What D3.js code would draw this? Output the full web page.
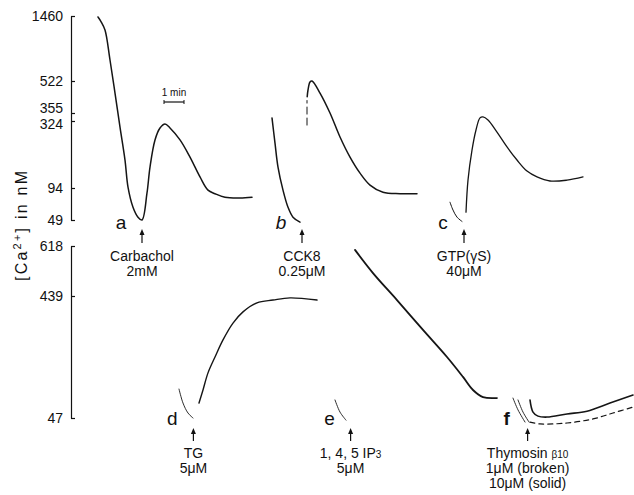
<!DOCTYPE html>
<html>
<head>
<meta charset="utf-8">
<script src="https://cdn.jsdelivr.net/npm/d3@7"></script>
<style>
body { margin: 0; background: #fff; }
svg { display: block; font-family: "Liberation Sans", Arial, sans-serif; }
.axis path, .axis line { stroke: #111; stroke-width: 1.2; }
.axis text { font-size: 14px; fill: #111; font-family: "Liberation Sans", Arial, sans-serif; }
.trace { fill: none; stroke: #151515; stroke-linejoin: round; stroke-linecap: round; }
.lbl { fill: #111; }
</style>
</head>
<body>
<svg id="chart"></svg>
<script>
// time in minutes, [Ca2+] in nM
const topTicks = [49, 94, 324, 355, 522, 1460];
const bottomTicks = [47, 439, 618];

// upper row (a, b, c)
const traceA = [[1.30,1446],[1.45,1380],[1.65,1258],[1.90,825],[2.15,459],[2.40,303],[2.65,190],[2.80,97],[3.05,67],[3.30,53],[3.50,49],
  [3.75,87],[3.90,166],[4.15,259],[4.40,300],[4.65,314],[4.90,300],[5.40,259],[5.90,200],[6.40,132],[6.80,91],[7.15,86],[7.65,81],[8.40,80],[9.00,81]];
const traceBpre = [[10.0,336],[10.15,248],[10.3,166],[10.55,91],[10.8,67],[11.05,53],[11.4,46]];
const traceBjump = [[11.75,310],[11.75,420]];
const traceB = [[11.76,440],[11.8,475],[11.9,517],[12.0,522],[12.4,459],[12.9,355],[13.4,269],[13.9,200],[14.4,145],[14.9,104],[15.55,88],[16.4,86],[17.25,86]];
const traceCpre = [[18.9,74],[19.05,63],[19.25,53],[19.5,47]];
const traceC = [[19.7,60],[19.8,121],[20.0,224],[20.2,293],[20.4,336],[20.55,340],[20.8,328],[21.25,286],[21.75,235],[22.25,190],[22.75,152],[23.25,132],[23.9,118],[24.75,121],[25.55,132]];

// lower row (d, e, f)
const traceDpre = [[5.35,140],[5.55,95],[5.8,63],[6.05,47]];
const traceD = [[6.35,95],[6.55,137],[6.8,192],[7.15,243],[7.55,298],[8.05,352],[8.55,388],[9.25,417],[10.05,426],[10.9,433],[12.25,426]];
const traceEpre = [[13.15,105],[13.4,66],[13.7,40]];
const traceE = [[14.15,604],[15.05,521],[16.25,426],[17.55,330],[18.75,243],[19.55,179],[20.05,137],[20.55,114],[21.25,111]];
const traceFpre1 = [[22.05,111],[22.3,73],[22.65,34]];
const traceFpre10 = [[22.3,105],[22.55,66],[22.85,34]];
const traceF10 = [[22.9,105],[23.05,66],[23.3,53],[23.75,50],[24.75,60],[25.75,69],[26.9,95],[28.05,121]];
const traceF1 = [[22.9,34],[23.4,28],[24.75,31],[26.05,44],[27.05,63],[28.05,82]];

// additions
const letters = ['a', 'b', 'c', 'd', 'e', 'f'];
const addTimes = [3.5, 11.5, 19.6, 6.07, 13.93, 22.78];
const rows = ['top', 'top', 'top', 'bottom', 'bottom', 'bottom'];
const agents = [
  ['Carbachol', '2mM'],
  ['CCK8', '0.25μM'],
  ['GTP(γS)', '40μM'],
  ['TG', '5μM'],
  ['1, 4, 5 IP_3', '5μM'],
  ['Thymosin _β10', '1μM (broken)', '10μM (solid)']
];

const width = 634, height = 495;
const svg = d3.select('#chart').attr('width', width).attr('height', height);

const x = d3.scaleLinear().domain([0, 28]).range([72, 632]);
const yTop = d3.scaleLinear().domain(topTicks).range([220, 188, 121, 113, 81, 16]);
const yBot = d3.scaleLinear().domain(bottomTicks).range([418, 296, 246]);
const yOf = { top: yTop, bottom: yBot };

// axes
const topAxis = svg.append('g').attr('class', 'axis').attr('transform', 'translate(71,0)')
  .call(d3.axisLeft(yTop).tickValues(topTicks).tickFormat(d3.format('d'))
    .tickSizeInner(-4).tickSizeOuter(0).tickPadding(8));
// 355 and 324 sit close together, spread their labels a little
topAxis.selectAll('.tick text')
  .attr('dy', d => d === 355 ? '-0.05em' : d === 324 ? '0.5em' : '0.32em');
svg.append('g').attr('class', 'axis').attr('transform', 'translate(71,0)')
  .call(d3.axisLeft(yBot).tickValues(bottomTicks).tickFormat(d3.format('d'))
    .tickSizeInner(-4).tickSizeOuter(0).tickPadding(8));

// y title, runs bottom to top from y=281
const title = svg.append('text').attr('class', 'lbl')
  .attr('transform', 'translate(27,281) rotate(-90)')
  .attr('text-anchor', 'start')
  .attr('textLength', 110).attr('lengthAdjust', 'spacing')
  .style('font-size', '16px');
title.append('tspan').text('[Ca');
title.append('tspan').attr('dy', -6).style('font-size', '11px').text('2+');
title.append('tspan').attr('dy', 6).text('] in nM');

// traces
const segments = [
  { row: 'top', data: traceA, w: 1.5 },
  { row: 'top', data: traceBpre, w: 1.5 },
  { row: 'top', data: traceBjump, w: 1, dash: '7,4' },
  { row: 'top', data: traceB, w: 1.5 },
  { row: 'top', data: traceCpre, w: 1 },
  { row: 'top', data: traceC, w: 1.3 },
  { row: 'bottom', data: traceDpre, w: 0.9 },
  { row: 'bottom', data: traceD, w: 1.4 },
  { row: 'bottom', data: traceEpre, w: 0.9 },
  { row: 'bottom', data: traceE, w: 1.8 },
  { row: 'bottom', data: traceFpre1, w: 0.9 },
  { row: 'bottom', data: traceFpre10, w: 0.9 },
  { row: 'bottom', data: traceF10, w: 1.6 },
  { row: 'bottom', data: traceF1, w: 1.2, dash: '5,4' }
];

segments.forEach(s => {
  const line = d3.line()
    .x(d => x(d[0]))
    .y(d => yOf[s.row](d[1]))
    .curve(d3.curveCatmullRom.alpha(0.5));
  svg.append('path').attr('class', 'trace')
    .attr('d', line(s.data))
    .attr('stroke-width', s.w)
    .attr('stroke-dasharray', s.dash || null);
});

// scale bar, 1 min
const barT = [4.6, 5.6];
svg.append('line').attr('x1', x(barT[0])).attr('x2', x(barT[1])).attr('y1', 102).attr('y2', 102)
  .attr('stroke', '#111').attr('stroke-width', 1.2);
barT.forEach(t => svg.append('line').attr('x1', x(t)).attr('x2', x(t)).attr('y1', 100).attr('y2', 104)
  .attr('stroke', '#111').attr('stroke-width', 1));
svg.append('text').attr('class', 'lbl').attr('x', x(d3.mean(barT))).attr('y', 96)
  .attr('text-anchor', 'middle').style('font-size', '10px').text('1 min');

// arrows, letters and agent labels
const rowLayout = {
  top: { letterY: 229, arrowTip: 229, arrowTail: 243, textY: 261, lineH: 15 },
  bottom: { letterY: 425, arrowTip: 428, arrowTail: 441, textY: 458, lineH: 15 }
};

letters.forEach((L, i) => {
  const lay = rowLayout[rows[i]];
  const ax = x(addTimes[i]);
  svg.append('text').attr('class', 'lbl')
    .attr('x', ax - 21).attr('y', lay.letterY)
    .attr('text-anchor', 'middle')
    .style('font-size', '19px')
    .style('font-style', L === 'b' ? 'italic' : 'normal')
    .style('font-weight', L === 'f' ? 'bold' : 'normal')
    .text(L);
  svg.append('line').attr('x1', ax).attr('x2', ax)
    .attr('y1', lay.arrowTip + 3).attr('y2', lay.arrowTail)
    .attr('stroke', '#111').attr('stroke-width', 1.2);
  svg.append('path')
    .attr('d', `M${ax},${lay.arrowTip} L${ax - 2.5},${lay.arrowTip + 6} L${ax + 2.5},${lay.arrowTip + 6} Z`)
    .attr('fill', '#111');
  agents[i].forEach((txt, j) => {
    const t = svg.append('text').attr('class', 'lbl')
      .attr('x', ax).attr('y', lay.textY + j * lay.lineH)
      .attr('text-anchor', 'middle').style('font-size', '14px');
    const parts = txt.split('_');
    t.append('tspan').text(parts[0]);
    if (parts[1]) t.append('tspan').style('font-size', '10px').text(parts[1]);
  });
});
</script>
</body>
</html>
